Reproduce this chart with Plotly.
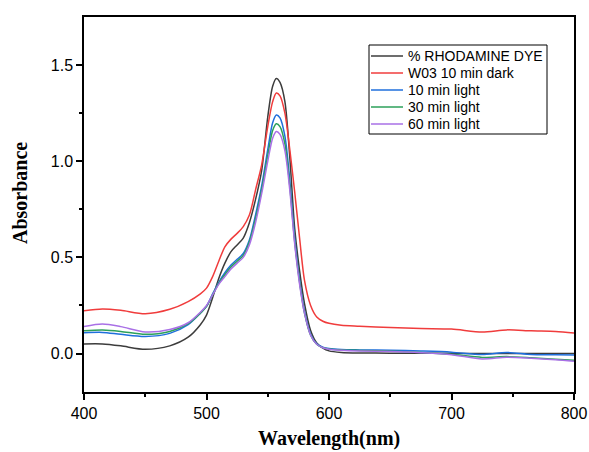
import plotly.graph_objects as go

# Wavelength grid (nm)
wavelength = [400, 415, 430, 450, 470, 485, 495, 500, 505, 510, 515, 520, 525, 530,
              535, 540, 545, 550, 554, 557, 560, 564, 568, 572, 576, 580, 585, 590,
              595, 600, 610, 625, 650, 675, 700, 725, 745, 765, 785, 800]

# Absorbance spectra
rhodamine_dye = [0.050, 0.050, 0.040, 0.022, 0.040, 0.085, 0.150, 0.200, 0.290, 0.390,
                 0.470, 0.530, 0.565, 0.600, 0.680, 0.800, 0.950, 1.230, 1.390, 1.430,
                 1.410, 1.310, 1.020, 0.650, 0.430, 0.260, 0.120, 0.055, 0.028, 0.014,
                 0.006, 0.003, 0.002, 0.002, 0.001, 0.000, 0.000, 0.000, 0.000, 0.000]
wo3_dark = [0.222, 0.232, 0.225, 0.207, 0.230, 0.270, 0.310, 0.340, 0.400, 0.480,
            0.555, 0.595, 0.625, 0.660, 0.720, 0.850, 0.980, 1.180, 1.310, 1.355,
            1.340, 1.250, 1.060, 0.840, 0.600, 0.380, 0.250, 0.190, 0.168, 0.157,
            0.147, 0.142, 0.135, 0.130, 0.127, 0.112, 0.123, 0.118, 0.115, 0.107]
light_10 = [0.108, 0.110, 0.100, 0.089, 0.105, 0.150, 0.210, 0.245, 0.310, 0.370,
            0.420, 0.460, 0.490, 0.520, 0.590, 0.720, 0.870, 1.060, 1.200, 1.240,
            1.225, 1.130, 0.900, 0.600, 0.380, 0.220, 0.100, 0.050, 0.033, 0.026,
            0.021, 0.019, 0.017, 0.013, 0.007, -0.005, 0.006, -0.005, -0.006, -0.007]
light_30 = [0.118, 0.122, 0.115, 0.100, 0.115, 0.155, 0.210, 0.245, 0.305, 0.365,
            0.410, 0.450, 0.480, 0.510, 0.580, 0.700, 0.850, 1.030, 1.160, 1.195,
            1.180, 1.090, 0.870, 0.580, 0.370, 0.210, 0.095, 0.048, 0.030, 0.024,
            0.019, 0.016, 0.012, 0.006, -0.004, -0.020, -0.016, -0.022, -0.030, -0.035]
light_60 = [0.140, 0.153, 0.140, 0.112, 0.125, 0.160, 0.215, 0.250, 0.305, 0.360,
            0.400, 0.440, 0.470, 0.500, 0.565, 0.680, 0.830, 1.000, 1.120, 1.155,
            1.140, 1.055, 0.850, 0.570, 0.360, 0.210, 0.095, 0.048, 0.030, 0.022,
            0.017, 0.013, 0.010, 0.004, -0.006, -0.028, -0.019, -0.024, -0.032, -0.040]

series_names = ["% RHODAMINE DYE", "W03 10 min dark", "10 min light",
                "30 min light", "60 min light"]
series_values = [rhodamine_dye, wo3_dark, light_10, light_30, light_60]
series_colors = ["#3c3c3c", "#f03c3c", "#1f6fdc", "#2ca05a", "#a970e6"]

# Figure geometry (pixels)
W, H = 589, 452
ML, MR, MT, MB = 84, 15, 17, 60
PW, PH = W - ML - MR, H - MT - MB


def px_x(px):
    return (px - ML) / PW


def px_y(py):
    return (H - MB - py) / PH


fig = go.Figure()
for name, values, color in zip(series_names, series_values, series_colors):
    fig.add_trace(go.Scatter(
        x=wavelength, y=values, name=name, mode="lines",
        line=dict(color=color, width=1.5, shape="spline", smoothing=0.8),
        showlegend=False,
    ))

axis_common = dict(
    showline=True, linecolor="black", linewidth=1.5, mirror=True,
    ticks="outside", ticklen=6, tickwidth=1.5, tickcolor="black",
    showgrid=False, zeroline=False, automargin=False,
    tickfont=dict(family="Liberation Sans, Arial", size=16, color="black"),
)

fig.update_xaxes(
    range=[400, 800], dtick=100, tick0=400,
    minor=dict(dtick=50, ticks="outside", ticklen=3, tickwidth=1.5, tickcolor="black"),
    **axis_common,
)
fig.update_yaxes(
    range=[-0.2, 1.75], tickvals=[0, 0.5, 1.0, 1.5], tickformat=".1f",
    minor=dict(tickvals=[-0.25, 0.25, 0.75, 1.25], ticks="outside", ticklen=3,
               tickwidth=1.5, tickcolor="black"),
    **axis_common,
)

# Boxed key in the upper right of the plot
shapes = [dict(type="rect", xref="paper", yref="paper",
               x0=px_x(369), x1=px_x(547), y0=px_y(134), y1=px_y(45),
               line=dict(color="black", width=1), fillcolor="white", layer="above")]
annotations = []
row0, row_step = 56, 17
for i, (name, color) in enumerate(zip(series_names, series_colors)):
    yc = row0 + i * row_step
    shapes.append(dict(type="line", xref="paper", yref="paper",
                       x0=px_x(371), x1=px_x(403), y0=px_y(yc), y1=px_y(yc),
                       line=dict(color=color, width=1.5), layer="above"))
    annotations.append(dict(text=name, xref="paper", yref="paper",
                            x=px_x(406), y=px_y(yc), xanchor="left", yanchor="middle",
                            showarrow=False,
                            font=dict(family="Liberation Sans, Arial", size=14,
                                      color="black")))

annotations += [
    dict(text="<b>Wavelength(nm)</b>", xref="paper", yref="paper",
         x=0.5, y=px_y(438), xanchor="center", yanchor="middle", showarrow=False,
         font=dict(family="Liberation Serif, Times New Roman", size=20, color="black")),
    dict(text="<b>Absorbance</b>", xref="paper", yref="paper",
         x=px_x(20), y=px_y(193), xanchor="center", yanchor="middle", showarrow=False,
         textangle=-90,
         font=dict(family="Liberation Serif, Times New Roman", size=20, color="black")),
]

fig.update_layout(
    width=W, height=H,
    margin=dict(l=ML, r=MR, t=MT, b=MB),
    paper_bgcolor="white", plot_bgcolor="white",
    showlegend=False,
    shapes=shapes,
    annotations=annotations,
)

fig.write_html("out.html")
